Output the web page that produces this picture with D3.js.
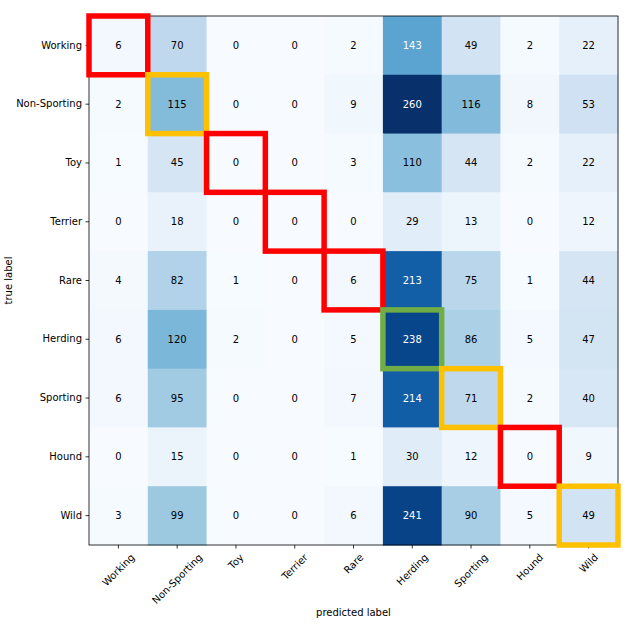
<!DOCTYPE html>
<html>
<head>
<meta charset="utf-8">
<script src="https://cdn.jsdelivr.net/npm/d3@7"></script>
<style>
  body { margin: 0; background: #fff; }
  svg text { font-family: "DejaVu Sans", sans-serif; }
</style>
</head>
<body>
<svg id="chart" width="633" height="630"></svg>
<script>
// confusion matrix: rows = true label, columns = predicted label
const classes = ["Working", "Non-Sporting", "Toy", "Terrier", "Rare", "Herding", "Sporting", "Hound", "Wild"];

const rowWorking     = [6, 70, 0, 0, 2, 143, 49, 2, 22];
const rowNonSporting = [2, 115, 0, 0, 9, 260, 116, 8, 53];
const rowToy         = [1, 45, 0, 0, 3, 110, 44, 2, 22];
const rowTerrier     = [0, 18, 0, 0, 0, 29, 13, 0, 12];
const rowRare        = [4, 82, 1, 0, 6, 213, 75, 1, 44];
const rowHerding     = [6, 120, 2, 0, 5, 238, 86, 5, 47];
const rowSporting    = [6, 95, 0, 0, 7, 214, 71, 2, 40];
const rowHound       = [0, 15, 0, 0, 1, 30, 12, 0, 9];
const rowWild        = [3, 99, 0, 0, 6, 241, 90, 5, 49];

const matrix = [rowWorking, rowNonSporting, rowToy, rowTerrier, rowRare,
                rowHerding, rowSporting, rowHound, rowWild];

// highlight boxes on the diagonal
const boxClasses = ["Working", "Non-Sporting", "Toy", "Terrier", "Rare", "Herding", "Sporting", "Hound", "Wild"];
const boxColors  = ["#ff0000", "#ffc000", "#ff0000", "#ff0000", "#ff0000", "#70ad47", "#ffc000", "#ff0000", "#ffc000"];

const svg = d3.select("#chart");
const plotL = 89, plotR = 618, plotT = 16, plotB = 545;

const x = d3.scaleBand().domain(classes).range([plotL, plotR]);
const y = d3.scaleBand().domain(classes).range([plotT, plotB]);

const maxVal = d3.max(matrix.flat());
// matplotlib "Blues"
const blues = ["#f7fbff", "#deebf7", "#c6dbef", "#9ecae1", "#6baed6", "#4292c6", "#2171b5", "#08519c", "#08306b"];
const color = d3.scaleLinear()
  .domain(d3.range(blues.length).map(i => i * maxVal / (blues.length - 1)))
  .range(blues);

const cells = [];
matrix.forEach((row, i) => row.forEach((v, j) => {
  cells.push({ t: classes[i], p: classes[j], v });
}));

svg.append("g")
  .selectAll("rect")
  .data(cells)
  .join("rect")
  .attr("x", d => x(d.p))
  .attr("y", d => y(d.t))
  .attr("width", x.bandwidth() + 0.5)
  .attr("height", y.bandwidth() + 0.5)
  .attr("fill", d => color(d.v));

svg.append("g")
  .selectAll("text")
  .data(cells)
  .join("text")
  .attr("x", d => x(d.p) + x.bandwidth() / 2)
  .attr("y", d => y(d.t) + y.bandwidth() / 2)
  .attr("dy", "0.35em")
  .attr("text-anchor", "middle")
  .attr("font-size", 10)
  .attr("fill", d => d.v > maxVal / 2 ? "#fff" : "#000")
  .text(d => d.v);

// axes
const yAxis = svg.append("g")
  .attr("transform", `translate(${plotL},0)`)
  .call(d3.axisLeft(y).tickSize(3.5).tickPadding(3.5));
const xAxis = svg.append("g")
  .attr("transform", `translate(0,${plotB})`)
  .call(d3.axisBottom(x).tickSize(3.5).tickPadding(3.5));

[xAxis, yAxis].forEach(g => {
  g.select(".domain").remove();
  g.selectAll(".tick line").attr("stroke", "#000").attr("stroke-width", 0.8);
  g.selectAll(".tick text").attr("font-size", 10).attr("fill", "#000")
    .style("font-family", "DejaVu Sans, sans-serif");
});

// rotated x tick labels, bounding box centred under the tick
xAxis.selectAll(".tick text").each(function () {
  const t = d3.select(this);
  const w = this.getComputedTextLength();
  const h = 10;
  const side = (w + h) * Math.SQRT1_2;
  t.attr("y", null).attr("dy", "0.35em")
    .attr("text-anchor", "middle")
    .attr("transform", `translate(0,${7 + side / 2}) rotate(-45)`);
});

// frame
svg.append("rect")
  .attr("x", plotL).attr("y", plotT)
  .attr("width", plotR - plotL).attr("height", plotB - plotT)
  .attr("fill", "none").attr("stroke", "#000").attr("stroke-width", 0.8);

// highlight boxes
svg.append("g")
  .selectAll("rect")
  .data(boxClasses.map((c, i) => ({ c, col: boxColors[i] })))
  .join("rect")
  .attr("x", d => x(d.c))
  .attr("y", d => y(d.c))
  .attr("width", x.bandwidth())
  .attr("height", y.bandwidth())
  .attr("fill", "none")
  .attr("stroke", d => d.col)
  .attr("stroke-width", 5.5);

// axis titles
svg.append("text")
  .attr("x", (plotL + plotR) / 2).attr("y", 616)
  .attr("text-anchor", "middle").attr("font-size", 10)
  .text("predicted label");

svg.append("text")
  .attr("transform", `translate(12,${(plotT + plotB) / 2}) rotate(-90)`)
  .attr("text-anchor", "middle").attr("font-size", 10)
  .text("true label");
</script>
</body>
</html>
